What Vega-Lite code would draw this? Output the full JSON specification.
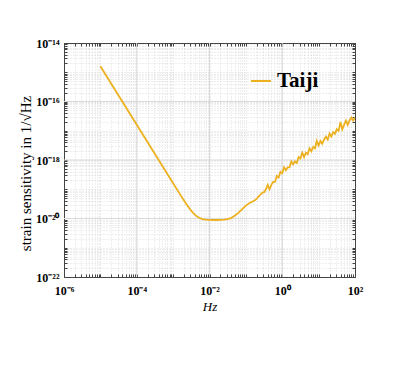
{
  "$schema": "https://vega.github.io/schema/vega-lite/v6.json",
  "width": 291,
  "height": 234,
  "autosize": {"type": "none"},
  "padding": {"left": 64, "top": 43, "right": 60, "bottom": 97},
  "background": "white",
  "config": {
    "view": {"stroke": null},
    "font": "Liberation Serif",
    "axis": {"domainColor": "#444", "tickColor": "#444", "labelColor": "black", "titleColor": "black", "labelFont": "Liberation Serif", "titleFont": "Liberation Serif"}
  },
  "datasets": {
    "curve": [
      {"f": 1e-5, "h": 1.6e-15, "series": "Taiji"},
      {"f": 1e-4, "h": 1.6e-17, "series": "Taiji"},
      {"f": 1e-3, "h": 1.6e-19, "series": "Taiji"},
      {"f": 1.585e-3, "h": 6.43e-20, "series": "Taiji"},
      {"f": 1.995e-3, "h": 4.11e-20, "series": "Taiji"},
      {"f": 2.512e-3, "h": 2.68e-20, "series": "Taiji"},
      {"f": 3.162e-3, "h": 1.82e-20, "series": "Taiji"},
      {"f": 3.981e-3, "h": 1.33e-20, "series": "Taiji"},
      {"f": 5.012e-3, "h": 1.08e-20, "series": "Taiji"},
      {"f": 6.31e-3, "h": 9.59e-21, "series": "Taiji"},
      {"f": 7.943e-3, "h": 9.08e-21, "series": "Taiji"},
      {"f": 1e-2, "h": 8.91e-21, "series": "Taiji"},
      {"f": 1.585e-2, "h": 8.87e-21, "series": "Taiji"},
      {"f": 2.512e-2, "h": 9.12e-21, "series": "Taiji"},
      {"f": 3.162e-2, "h": 9.55e-21, "series": "Taiji"},
      {"f": 3.981e-2, "h": 1.047e-20, "series": "Taiji"},
      {"f": 5.012e-2, "h": 1.259e-20, "series": "Taiji"},
      {"f": 6.31e-2, "h": 1.585e-20, "series": "Taiji"},
      {"f": 7.943e-2, "h": 2.09e-20, "series": "Taiji"},
      {"f": 0.1, "h": 2.754e-20, "series": "Taiji"},
      {"f": 0.1259, "h": 3.39e-20, "series": "Taiji"},
      {"f": 0.1585, "h": 3.89e-20, "series": "Taiji"},
      {"f": 0.1778, "h": 4.17e-20, "series": "Taiji"},
      {"f": 0.1995, "h": 4.79e-20, "series": "Taiji"},
      {"f": 0.2512, "h": 6.61e-20, "series": "Taiji"},
      {"f": 0.2818, "h": 7.59e-20, "series": "Taiji"},
      {"f": 0.3162, "h": 7.943e-20, "series": "Taiji"},
      {"f": 0.3548, "h": 1e-19, "series": "Taiji"},
      {"f": 0.3981, "h": 1.413e-19, "series": "Taiji"},
      {"f": 0.4467, "h": 1e-19, "series": "Taiji"},
      {"f": 0.5012, "h": 1.413e-19, "series": "Taiji"},
      {"f": 0.5623, "h": 1.778e-19, "series": "Taiji"},
      {"f": 0.631, "h": 1.778e-19, "series": "Taiji"},
      {"f": 0.7079, "h": 2.818e-19, "series": "Taiji"},
      {"f": 0.7943, "h": 2.512e-19, "series": "Taiji"},
      {"f": 0.8913, "h": 3.981e-19, "series": "Taiji"},
      {"f": 1, "h": 3.548e-19, "series": "Taiji"},
      {"f": 1.122, "h": 5.623e-19, "series": "Taiji"},
      {"f": 1.259, "h": 4.467e-19, "series": "Taiji"},
      {"f": 1.413, "h": 5.623e-19, "series": "Taiji"},
      {"f": 1.585, "h": 5.623e-19, "series": "Taiji"},
      {"f": 1.778, "h": 8.913e-19, "series": "Taiji"},
      {"f": 1.995, "h": 7.079e-19, "series": "Taiji"},
      {"f": 2.239, "h": 8.913e-19, "series": "Taiji"},
      {"f": 2.512, "h": 7.943e-19, "series": "Taiji"},
      {"f": 2.818, "h": 1.259e-18, "series": "Taiji"},
      {"f": 3.162, "h": 1.122e-18, "series": "Taiji"},
      {"f": 3.548, "h": 1.778e-18, "series": "Taiji"},
      {"f": 3.981, "h": 1.259e-18, "series": "Taiji"},
      {"f": 4.467, "h": 1.778e-18, "series": "Taiji"},
      {"f": 5.012, "h": 1.585e-18, "series": "Taiji"},
      {"f": 5.623, "h": 2.512e-18, "series": "Taiji"},
      {"f": 6.31, "h": 1.995e-18, "series": "Taiji"},
      {"f": 7.079, "h": 2.818e-18, "series": "Taiji"},
      {"f": 7.943, "h": 2.512e-18, "series": "Taiji"},
      {"f": 8.913, "h": 4.467e-18, "series": "Taiji"},
      {"f": 10, "h": 3.162e-18, "series": "Taiji"},
      {"f": 11.22, "h": 4.467e-18, "series": "Taiji"},
      {"f": 12.59, "h": 3.548e-18, "series": "Taiji"},
      {"f": 14.13, "h": 5.012e-18, "series": "Taiji"},
      {"f": 15.85, "h": 6.31e-18, "series": "Taiji"},
      {"f": 17.78, "h": 5.012e-18, "series": "Taiji"},
      {"f": 19.95, "h": 7.943e-18, "series": "Taiji"},
      {"f": 22.39, "h": 6.31e-18, "series": "Taiji"},
      {"f": 25.12, "h": 8.913e-18, "series": "Taiji"},
      {"f": 28.18, "h": 7.943e-18, "series": "Taiji"},
      {"f": 31.62, "h": 1.122e-17, "series": "Taiji"},
      {"f": 35.48, "h": 1e-17, "series": "Taiji"},
      {"f": 39.81, "h": 1.995e-17, "series": "Taiji"},
      {"f": 44.67, "h": 1.122e-17, "series": "Taiji"},
      {"f": 50.12, "h": 1.585e-17, "series": "Taiji"},
      {"f": 56.23, "h": 2.239e-17, "series": "Taiji"},
      {"f": 63.1, "h": 1.585e-17, "series": "Taiji"},
      {"f": 70.79, "h": 2.239e-17, "series": "Taiji"},
      {"f": 79.43, "h": 2.818e-17, "series": "Taiji"},
      {"f": 89.13, "h": 2.239e-17, "series": "Taiji"},
      {"f": 100, "h": 2.818e-17, "series": "Taiji"}
    ],
    "xmajor": [{"v": 1e-4}, {"v": 1e-2}, {"v": 1}],
    "ymajor": [{"v": 1e-20}, {"v": 1e-18}, {"v": 1e-16}]
  },
  "resolve": {"axis": {"x": "independent", "y": "independent"}},
  "layer": [
    {
      "data": {"name": "xmajor"},
      "mark": {"type": "rule", "color": "#d9d9d9", "strokeWidth": 1},
      "encoding": {
        "x": {
          "field": "v", "type": "quantitative",
          "scale": {"type": "log", "domain": [1e-6, 100], "nice": false},
          "axis": {
            "orient": "bottom",
            "values": [1e-6,2e-6,3e-6,4e-6,5e-6,6e-6,7e-6,8e-6,9e-6,1e-5,2e-5,3e-5,4e-5,5e-5,6e-5,7e-5,8e-5,9e-5,1e-4,2e-4,3e-4,4e-4,5e-4,6e-4,7e-4,8e-4,9e-4,1e-3,2e-3,3e-3,4e-3,5e-3,6e-3,7e-3,8e-3,9e-3,1e-2,2e-2,3e-2,4e-2,5e-2,6e-2,7e-2,8e-2,9e-2,0.1,0.2,0.3,0.4,0.5,0.6,0.7,0.8,0.9,1,2,3,4,5,6,7,8,9,10,20,30,40,50,60,70,80,90,100],
            "labelExpr": "abs(log(datum.value)/LN10 - round(log(datum.value)/LN10)) > 0.001 ? '' : (round(log(datum.value)/LN10) == -6 ? '10⁻⁶' : round(log(datum.value)/LN10) == -4 ? '10⁻⁴' : round(log(datum.value)/LN10) == -2 ? '10⁻²' : round(log(datum.value)/LN10) == 0 ? '10⁰' : round(log(datum.value)/LN10) == 2 ? '10²' : '')",
            "labelOverlap": false,
            "labelBound": false,
            "labelFlush": false,
            "labelFontSize": 12,
            "labelFontWeight": "bold",
            "labelPadding": 11,
            "tickSize": -3,
            "grid": true,
            "gridColor": "#c8c8c8",
            "gridDash": [1, 2],
            "gridWidth": 0.6,
            "title": "Hz",
            "titleFontSize": 13,
            "titleFontStyle": "italic",
            "titleFontWeight": "normal",
            "titlePadding": 4
          }
        }
      }
    },
    {
      "data": {"name": "ymajor"},
      "mark": {"type": "rule", "color": "#d9d9d9", "strokeWidth": 1},
      "encoding": {
        "y": {
          "field": "v", "type": "quantitative",
          "scale": {"type": "log", "domain": [1e-22, 1e-14], "nice": false},
          "axis": {
            "orient": "left",
            "values": [1e-22,2e-22,3e-22,4e-22,5e-22,6e-22,7e-22,8e-22,9e-22,1e-21,2e-21,3e-21,4e-21,5e-21,6e-21,7e-21,8e-21,9e-21,1e-20,2e-20,3e-20,4e-20,5e-20,6e-20,7e-20,8e-20,9e-20,1e-19,2e-19,3e-19,4e-19,5e-19,6e-19,7e-19,8e-19,9e-19,1e-18,2e-18,3e-18,4e-18,5e-18,6e-18,7e-18,8e-18,9e-18,1e-17,2e-17,3e-17,4e-17,5e-17,6e-17,7e-17,8e-17,9e-17,1e-16,2e-16,3e-16,4e-16,5e-16,6e-16,7e-16,8e-16,9e-16,1e-15,2e-15,3e-15,4e-15,5e-15,6e-15,7e-15,8e-15,9e-15,1e-14],
            "labelExpr": "abs(log(datum.value)/LN10 - round(log(datum.value)/LN10)) > 0.001 ? '' : (round(log(datum.value)/LN10) == -22 ? '10⁻²²' : round(log(datum.value)/LN10) == -20 ? '10⁻²⁰' : round(log(datum.value)/LN10) == -18 ? '10⁻¹⁸' : round(log(datum.value)/LN10) == -16 ? '10⁻¹⁶' : round(log(datum.value)/LN10) == -14 ? '10⁻¹⁴' : '')",
            "labelOverlap": false,
            "labelBound": false,
            "labelFlush": false,
            "labelFontSize": 12,
            "labelFontWeight": "bold",
            "labelPadding": 8,
            "tickSize": -3,
            "grid": true,
            "gridColor": "#c8c8c8",
            "gridDash": [1, 2],
            "gridWidth": 0.6,
            "title": "strain sensitivity in 1/√Hz",
            "titleFontSize": 15,
            "titleFontWeight": "normal",
            "titleX": -31,
            "titleY": 130
          }
        }
      }
    },
    {
      "data": {"name": "curve"},
      "mark": {"type": "line", "strokeWidth": 1.8, "clip": true},
      "encoding": {
        "x": {
          "field": "f", "type": "quantitative",
          "scale": {"type": "log", "domain": [1e-6, 100], "nice": false},
          "axis": {"orient": "top", "labels": false, "title": null, "grid": false, "tickSize": -3,
            "values": [1e-6,2e-6,3e-6,4e-6,5e-6,6e-6,7e-6,8e-6,9e-6,1e-5,2e-5,3e-5,4e-5,5e-5,6e-5,7e-5,8e-5,9e-5,1e-4,2e-4,3e-4,4e-4,5e-4,6e-4,7e-4,8e-4,9e-4,1e-3,2e-3,3e-3,4e-3,5e-3,6e-3,7e-3,8e-3,9e-3,1e-2,2e-2,3e-2,4e-2,5e-2,6e-2,7e-2,8e-2,9e-2,0.1,0.2,0.3,0.4,0.5,0.6,0.7,0.8,0.9,1,2,3,4,5,6,7,8,9,10,20,30,40,50,60,70,80,90,100]}
        },
        "y": {
          "field": "h", "type": "quantitative",
          "scale": {"type": "log", "domain": [1e-22, 1e-14], "nice": false},
          "axis": {"orient": "right", "labels": false, "title": null, "grid": false, "tickSize": -3,
            "values": [1e-22,2e-22,3e-22,4e-22,5e-22,6e-22,7e-22,8e-22,9e-22,1e-21,2e-21,3e-21,4e-21,5e-21,6e-21,7e-21,8e-21,9e-21,1e-20,2e-20,3e-20,4e-20,5e-20,6e-20,7e-20,8e-20,9e-20,1e-19,2e-19,3e-19,4e-19,5e-19,6e-19,7e-19,8e-19,9e-19,1e-18,2e-18,3e-18,4e-18,5e-18,6e-18,7e-18,8e-18,9e-18,1e-17,2e-17,3e-17,4e-17,5e-17,6e-17,7e-17,8e-17,9e-17,1e-16,2e-16,3e-16,4e-16,5e-16,6e-16,7e-16,8e-16,9e-16,1e-15,2e-15,3e-15,4e-15,5e-15,6e-15,7e-15,8e-15,9e-15,1e-14]}
        },
        "color": {
          "field": "series", "type": "nominal",
          "scale": {"range": ["#EDB120"]},
          "legend": {
            "orient": "none", "legendX": 186, "legendY": 27, "title": null,
            "symbolType": "stroke", "symbolSize": 400, "symbolStrokeWidth": 2,
            "labelFont": "Liberation Serif", "labelFontWeight": "bold", "labelFontSize": 21,
            "labelColor": "black", "padding": 0, "labelOffset": 5
          }
        }
      }
    }
  ]
}
